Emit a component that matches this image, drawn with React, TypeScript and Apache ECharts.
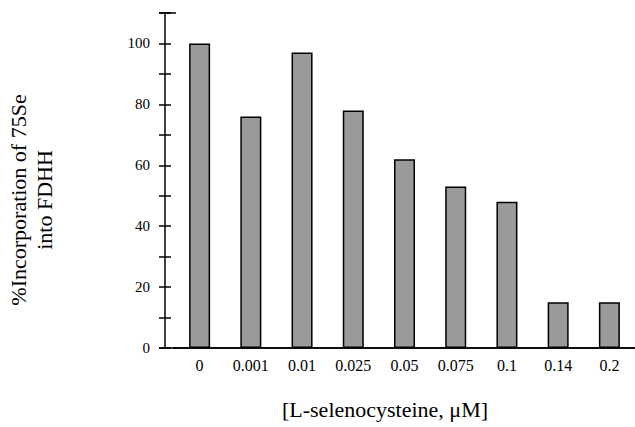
import React, { useEffect, useRef } from "react";
import * as echarts from "echarts";

const categories = ["0", "0.001", "0.01", "0.025", "0.05", "0.075", "0.1", "0.14", "0.2"];
const incorporation = [100, 76, 97, 78, 62, 53, 48, 15, 15];
const yTitleLines = ["%Incorporation of 75Se", "into FDHH"];
const xTitle = "[L-selenocysteine, μM]";

const FONT = "'Liberation Serif', 'DejaVu Serif', serif";

export default function App() {
  const ref = useRef<HTMLDivElement>(null);
  useEffect(() => {
    if (!ref.current) return;
    const chart = echarts.init(ref.current, null, { renderer: "svg" });
    const option: any = {
      animation: false,
      backgroundColor: "#ffffff",
      grid: { left: 174, right: -1, top: 13, bottom: 79, containLabel: false },
      xAxis: [
        {
          type: "category",
          data: categories,
          position: "bottom",
          axisLine: { show: true, lineStyle: { color: "#000", width: 1.5 } },
          axisTick: { show: false },
          axisLabel: { color: "#000", fontFamily: FONT, fontSize: 16, margin: 9 },
        },
        {
          type: "category",
          data: categories,
          position: "top",
          axisLine: { show: true, lineStyle: { color: "#000", width: 1.5 } },
          axisTick: { show: false },
          axisLabel: { show: false },
        },
      ],
      yAxis: [
        {
          type: "value",
          min: 0,
          max: 110,
          interval: 10,
          position: "left",
          offset: 9,
          splitLine: { show: false },
          axisLine: { show: true, lineStyle: { color: "#000", width: 1.5 } },
          axisTick: { show: true, inside: false, length: 6, lineStyle: { color: "#000", width: 1.5 } },
          axisLabel: {
            color: "#000",
            fontFamily: FONT,
            fontSize: 15,
            margin: 15,
            formatter: (v: number) => (v % 20 === 0 && v <= 100 ? String(v) : ""),
          },
        },
        {
          type: "value",
          min: 0,
          max: 110,
          interval: 10,
          position: "left",
          offset: 9,
          splitLine: { show: false },
          axisLine: { show: false },
          axisTick: { show: true, inside: true, length: 6, lineStyle: { color: "#000", width: 1.5 } },
          axisLabel: { show: false },
        },
      ],
      series: [
        {
          type: "bar",
          data: incorporation,
          barWidth: 21,
          itemStyle: { color: "#9a9a9a", borderColor: "#000", borderWidth: 1.5 },
        },
      ],
    };
    chart.setOption(option);

    const yTop = chart.convertToPixel({ yAxisIndex: 0 }, 110);
    const yZero = chart.convertToPixel({ yAxisIndex: 0 }, 0);
    chart.setOption({
      graphic: [
        {
          type: "line",
          shape: { x1: 159, y1: yTop, x2: 176, y2: yTop },
          style: { stroke: "#000", lineWidth: 1.5 },
        },
        {
          type: "line",
          shape: { x1: 159, y1: yZero, x2: 176, y2: yZero },
          style: { stroke: "#000", lineWidth: 1.5 },
        },
        {
          type: "text",
          x: 31,
          y: 200,
          rotation: Math.PI / 2,
          style: {
            text: yTitleLines.join("\n"),
            font: `22px ${FONT}`,
            fill: "#000",
            textAlign: "center",
            textVerticalAlign: "middle",
            lineHeight: 26,
          },
        },
        {
          type: "text",
          x: 385,
          y: 409,
          style: {
            text: xTitle,
            font: `22px ${FONT}`,
            fill: "#000",
            textAlign: "center",
            textVerticalAlign: "middle",
          },
        },
      ],
    });
    return () => chart.dispose();
  }, []);
  return (
    <div
      ref={ref}
      style={{ position: "fixed", left: 0, top: 0, width: 635, height: 427 }}
    />
  );
}
